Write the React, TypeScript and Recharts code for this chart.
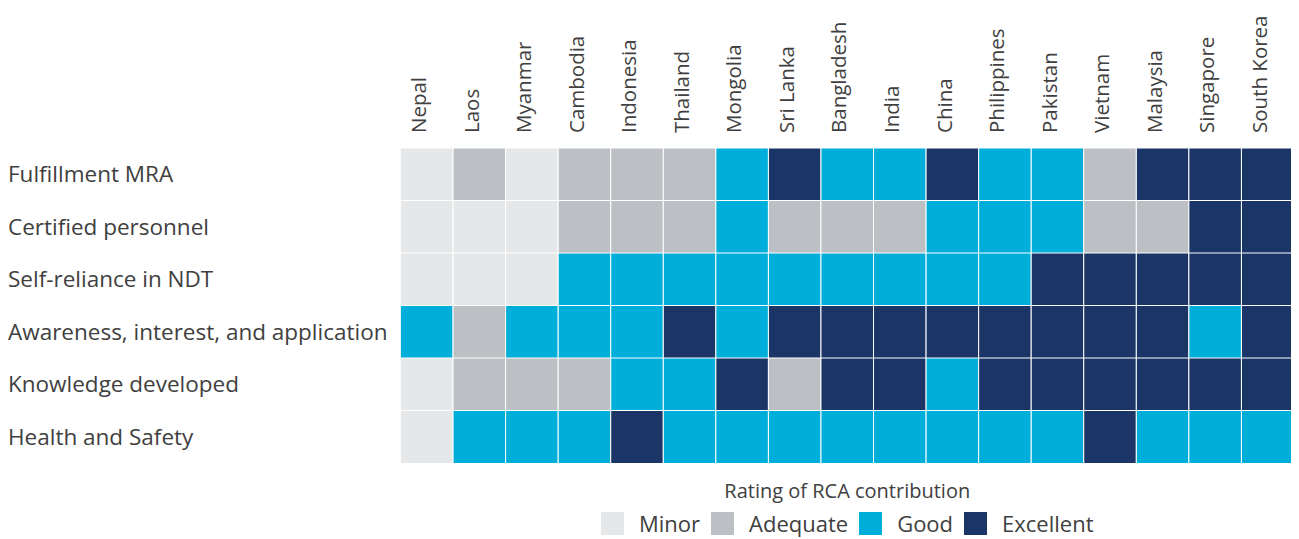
import { Bar, BarChart, Cell, Legend, XAxis, YAxis } from "recharts";

const countries = [
  "Nepal", "Laos", "Myanmar", "Cambodia", "Indonesia", "Thailand", "Mongolia", "Sri Lanka",
  "Bangladesh", "India", "China", "Philippines", "Pakistan", "Vietnam", "Malaysia", "Singapore", "South Korea",
];

const criteria = [
  "Fulfillment MRA",
  "Certified personnel",
  "Self-reliance in NDT",
  "Awareness, interest, and application",
  "Knowledge developed",
  "Health and Safety",
];

// one rating per country, same order as countries
const fulfillmentMRA = ["Minor", "Adequate", "Minor", "Adequate", "Adequate", "Adequate", "Good", "Excellent", "Good", "Good", "Excellent", "Good", "Good", "Adequate", "Excellent", "Excellent", "Excellent"];
const certifiedPersonnel = ["Minor", "Minor", "Minor", "Adequate", "Adequate", "Adequate", "Good", "Adequate", "Adequate", "Adequate", "Good", "Good", "Good", "Adequate", "Adequate", "Excellent", "Excellent"];
const selfReliance = ["Minor", "Minor", "Minor", "Good", "Good", "Good", "Good", "Good", "Good", "Good", "Good", "Good", "Excellent", "Excellent", "Excellent", "Excellent", "Excellent"];
const awareness = ["Good", "Adequate", "Good", "Good", "Good", "Excellent", "Good", "Excellent", "Excellent", "Excellent", "Excellent", "Excellent", "Excellent", "Excellent", "Excellent", "Good", "Excellent"];
const knowledge = ["Minor", "Adequate", "Adequate", "Adequate", "Good", "Good", "Excellent", "Adequate", "Excellent", "Excellent", "Good", "Excellent", "Excellent", "Excellent", "Excellent", "Excellent", "Excellent"];
const healthSafety = ["Minor", "Good", "Good", "Good", "Excellent", "Good", "Good", "Good", "Good", "Good", "Good", "Good", "Good", "Excellent", "Good", "Good", "Good"];

const ratings = [fulfillmentMRA, certifiedPersonnel, selfReliance, awareness, knowledge, healthSafety];

const levels = ["Minor", "Adequate", "Good", "Excellent"];
const levelColors: Record<string, string> = {
  Minor: "#E6E7E9",
  Adequate: "#BCC0C4",
  Good: "#00AEDA",
  Excellent: "#1A3566",
};

const FONT = "'Open Sans', sans-serif";
const TEXT = "#404040";

const rows = criteria.map((label) => {
  const row: Record<string, string | number> = { label };
  countries.forEach((_, j) => {
    row[`c${j}`] = 1;
  });
  return row;
});

const columnTicks = countries.map((_, i) => i + 0.5);

function CountryTick(props: any) {
  const { x, y, payload } = props;
  const name = countries[Math.floor(payload.value)];
  const tx = x - 8;
  const ty = y - 7;
  return (
    <text
      x={tx}
      y={ty}
      transform={`rotate(-90 ${tx} ${ty})`}
      textAnchor="start"
      dy="0.35em"
      fontSize={20.5}
      fontFamily={FONT}
      fill={TEXT}
    >
      {name}
    </text>
  );
}

function CriteriaTick(props: any) {
  const { y, payload } = props;
  return (
    <text x={0} y={y} dy="0.35em" textAnchor="start" fontSize={22.5} fontFamily={FONT} fill={TEXT}>
      {payload.value}
    </text>
  );
}

function RatingLegend() {
  return (
    <div style={{ position: "relative", height: 75, fontFamily: FONT, color: TEXT }}>
      <div style={{ position: "absolute", top: 15, left: 0, right: 0, textAlign: "center", fontSize: 20, lineHeight: "26px" }}>
        Rating of RCA contribution
      </div>
      <div
        style={{
          position: "absolute",
          top: 47,
          left: 0,
          right: 0,
          display: "flex",
          justifyContent: "center",
          alignItems: "center",
          fontSize: 22,
          lineHeight: "26px",
        }}
      >
        {levels.map((lv, i) => (
          <span key={lv} style={{ display: "flex", alignItems: "center", marginLeft: i === 0 ? 0 : 11 }}>
            <span style={{ width: 23, height: 23, background: levelColors[lv], display: "inline-block", marginRight: 15 }} />
            {lv}
          </span>
        ))}
      </div>
    </div>
  );
}

export default function App() {
  return (
    <div>
      <style>{".recharts-surface{overflow:visible}"}</style>
      <BarChart
        width={1290}
        height={530}
        data={rows}
        layout="vertical"
        barCategoryGap={0}
        margin={{ top: 0, right: 4, bottom: 0, left: 0 }}
      >
        <XAxis
          type="number"
          orientation="top"
          domain={[0, countries.length]}
          ticks={columnTicks}
          interval={0}
          height={140}
          axisLine={false}
          tickLine={false}
          tick={<CountryTick />}
          allowDataOverflow
        />
        <YAxis
          type="category"
          dataKey="label"
          width={392.5}
          axisLine={false}
          tickLine={false}
          interval={0}
          tick={<CriteriaTick />}
        />
        <Legend
          verticalAlign="bottom"
          width={893.5}
          wrapperStyle={{ left: 392.5, bottom: 0, width: 893.5 }}
          content={() => <RatingLegend />}
        />
        {countries.map((c, j) => (
          <Bar key={c} dataKey={`c${j}`} stackId="grid" stroke="#ffffff" strokeWidth={1} isAnimationActive={false}>
            {rows.map((_, i) => (
              <Cell key={i} fill={levelColors[ratings[i][j]]} />
            ))}
          </Bar>
        ))}
      </BarChart>
    </div>
  );
}
